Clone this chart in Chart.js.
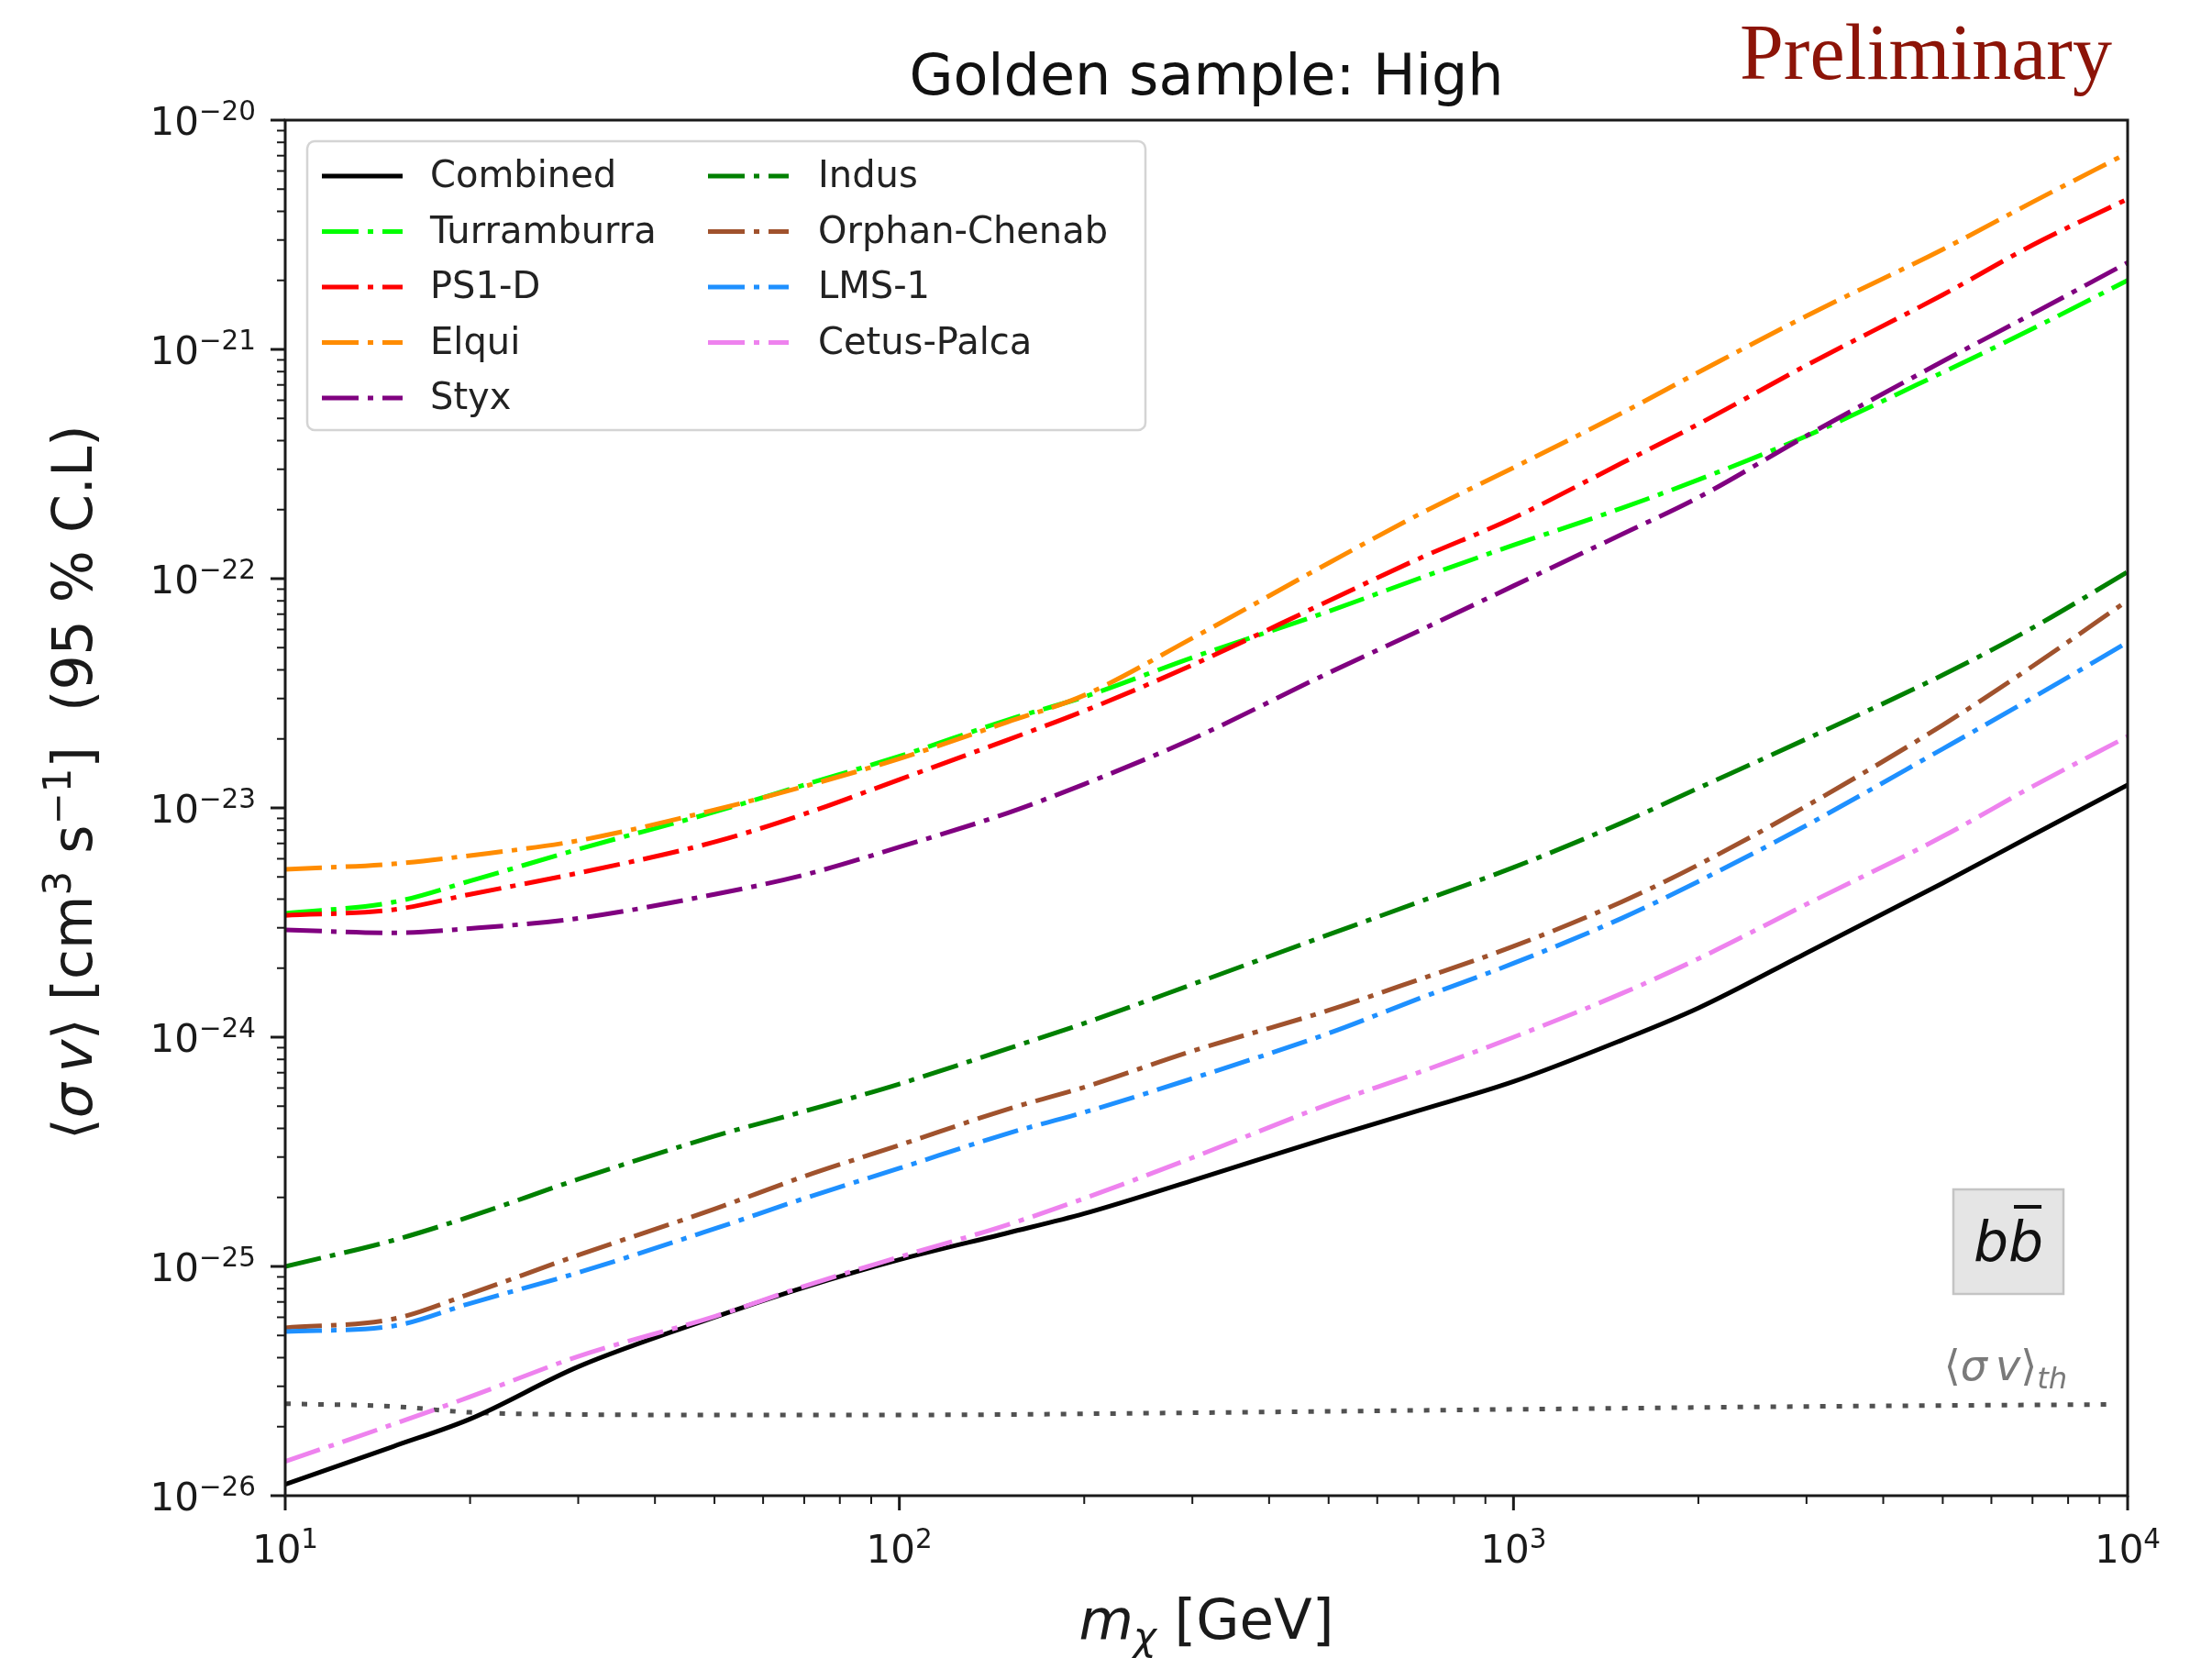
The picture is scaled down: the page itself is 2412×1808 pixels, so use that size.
<!DOCTYPE html>
<html>
<head>
<meta charset="utf-8">
<script src="https://cdn.jsdelivr.net/npm/chart.js@4.4.1/dist/chart.umd.min.js"></script>
<style>
  html, body { margin: 0; padding: 0; background: #fff; }
  canvas { display: block; }
</style>
</head>
<body>
<canvas id="limits" width="2412" height="1808"></canvas>
<script>
// dark matter mass grid (GeV)
var masses = [10, 15, 20, 30, 50, 70, 100, 150, 200, 300, 500, 700, 1000, 1500, 2000, 3000, 5000, 7000, 10000];

// 95% C.L. upper limits on <sigma v> (cm^3 s^-1), b-bbar channel
var combined     = [1.12e-26, 1.64e-26, 2.16e-26, 3.65e-26, 6.0e-26, 8.1e-26, 1.07e-25, 1.4e-25, 1.7e-25, 2.37e-25, 3.64e-25, 4.78e-25, 6.4e-25, 9.7e-25, 1.34e-24, 2.33e-24, 4.7e-24, 7.6e-24, 1.26e-23];
var turramburra  = [3.47e-24, 3.88e-24, 4.8e-24, 6.6e-24, 9.6e-24, 1.26e-23, 1.68e-23, 2.42e-23, 3.05e-23, 4.53e-23, 7.2e-23, 1.0e-22, 1.4e-22, 2.03e-22, 2.7e-22, 4.19e-22, 7.94e-22, 1.23e-21, 2.0e-21];
var ps1d         = [3.4e-24, 3.6e-24, 4.2e-24, 5.2e-24, 7.1e-24, 9.4e-24, 1.33e-23, 1.98e-23, 2.65e-23, 4.2e-23, 8.0e-23, 1.22e-22, 1.84e-22, 3.19e-22, 4.72e-22, 8.53e-22, 1.73e-21, 2.85e-21, 4.53e-21];
var elqui        = [5.4e-24, 5.7e-24, 6.2e-24, 7.2e-24, 9.8e-24, 1.24e-23, 1.64e-23, 2.37e-23, 3.1e-23, 5.5e-23, 1.17e-22, 1.9e-22, 3.05e-22, 5.27e-22, 7.94e-22, 1.4e-21, 2.73e-21, 4.39e-21, 7.19e-21];
var styx         = [2.94e-24, 2.85e-24, 2.98e-24, 3.3e-24, 4.2e-24, 5.1e-24, 6.75e-24, 9.5e-24, 1.27e-23, 2.0e-23, 3.88e-23, 5.9e-23, 9.3e-23, 1.56e-22, 2.26e-22, 4.2e-22, 8.87e-22, 1.43e-21, 2.39e-21];
var indus        = [1.0e-25, 1.3e-25, 1.65e-25, 2.4e-25, 3.7e-25, 4.75e-25, 6.25e-25, 8.9e-25, 1.15e-24, 1.7e-24, 2.8e-24, 3.88e-24, 5.5e-24, 8.6e-24, 1.22e-23, 2.0e-23, 3.8e-23, 6.1e-23, 1.07e-22];
var orphanChenab = [5.4e-26, 5.9e-26, 7.6e-26, 1.12e-25, 1.78e-25, 2.47e-25, 3.38e-25, 4.85e-25, 6.05e-25, 8.7e-25, 1.31e-24, 1.78e-24, 2.49e-24, 3.89e-24, 5.65e-24, 1.02e-23, 2.3e-23, 4.15e-23, 8.03e-23];
var lms1         = [5.2e-26, 5.5e-26, 6.9e-26, 9.4e-26, 1.46e-25, 1.98e-25, 2.68e-25, 3.8e-25, 4.7e-25, 6.6e-25, 1.04e-24, 1.47e-24, 2.1e-24, 3.3e-24, 4.78e-24, 8.4e-24, 1.81e-23, 3.02e-23, 5.28e-23];
var cetusPalca   = [1.41e-26, 2.05e-26, 2.7e-26, 4.05e-26, 6.05e-26, 8.2e-26, 1.1e-25, 1.52e-25, 1.98e-25, 2.98e-25, 5.1e-25, 7.0e-25, 1.0e-24, 1.55e-24, 2.2e-24, 3.8e-24, 7.51e-24, 1.24e-23, 2.05e-23];

// thermal relic cross section
var thermalMasses = [10, 15, 20, 30, 50, 100, 300, 1000, 3000, 9300];
var thermalXsec   = [2.52e-26, 2.45e-26, 2.31e-26, 2.26e-26, 2.25e-26, 2.25e-26, 2.3e-26, 2.38e-26, 2.45e-26, 2.5e-26];

var seriesNames  = ['Combined', 'Turramburra', 'PS1-D', 'Elqui', 'Styx', 'Indus', 'Orphan-Chenab', 'LMS-1', 'Cetus-Palca'];
var seriesValues = [combined, turramburra, ps1d, elqui, styx, indus, orphanChenab, lms1, cetusPalca];
var seriesColors = ['#000000', '#00ff00', '#ff0000', '#ff8c00', '#800080', '#008000', '#a0522d', '#1e90ff', '#ee82ee'];

// axis decades
var xDecades = [1, 2, 3, 4];
var yDecades = [-26, -25, -24, -23, -22, -21, -20];

var DASHDOT = [40, 10, 6, 10];
var FONT = '"DejaVu Sans"';

var datasets = seriesNames.map(function (name, i) {
  return {
    label: name,
    data: masses.map(function (m, j) { return { x: m, y: seriesValues[i][j] }; }),
    borderColor: seriesColors[i],
    backgroundColor: seriesColors[i],
    borderWidth: 5,
    borderDash: i === 0 ? [] : DASHDOT,
    borderCapStyle: 'butt',
    pointRadius: 0,
    fill: false,
    cubicInterpolationMode: 'monotone',
    order: -i
  };
});
datasets.push({
  label: 'thermal',
  data: thermalMasses.map(function (m, j) { return { x: m, y: thermalXsec[j] }; }),
  borderColor: 'rgba(50,50,50,0.85)',
  borderWidth: 5,
  borderDash: [6, 12],
  borderCapStyle: 'butt',
  pointRadius: 0,
  fill: false,
  cubicInterpolationMode: 'monotone',
  order: 5
});

function fontFor(p, size) {
  var s = (p.sup || p.sub) ? size * 0.7 : size;
  return (p.it ? 'italic ' : '') + s.toFixed(1) + 'px ' + FONT;
}
function richWidth(ctx, parts, size) {
  var w = 0;
  parts.forEach(function (p) {
    ctx.font = fontFor(p, size);
    w += ctx.measureText(p.t).width;
  });
  return w;
}
// draws a run of text pieces (italic / super- / subscript) on one baseline
function drawRich(ctx, parts, x, y, size, align) {
  var w = richWidth(ctx, parts, size);
  var cx = align === 'center' ? x - w / 2 : (align === 'right' ? x - w : x);
  ctx.textAlign = 'left';
  ctx.textBaseline = 'alphabetic';
  parts.forEach(function (p) {
    ctx.font = fontFor(p, size);
    var dy = p.sup ? -size * 0.38 : (p.sub ? size * 0.2 : 0);
    ctx.fillText(p.t, cx, y + dy);
    cx += ctx.measureText(p.t).width;
  });
  return w;
}
function powerLabel(e) {
  return [{ t: '10' }, { t: String(e).replace('-', '\u2212'), sup: true }];
}

var decorations = {
  id: 'decorations',
  afterDraw: function (chart) {
    var ctx = chart.ctx;
    var a = chart.chartArea;
    var xs = chart.scales.x, ys = chart.scales.y;
    ctx.save();

    // axes frame
    ctx.strokeStyle = '#1a1a1a';
    ctx.lineWidth = 3;
    ctx.strokeRect(a.left, a.top, a.right - a.left, a.bottom - a.top);

    // ticks: majors at decades, minors at 2..9
    ctx.fillStyle = '#1a1a1a';
    xDecades.forEach(function (e) {
      var px = xs.getPixelForValue(Math.pow(10, e));
      ctx.lineWidth = 3;
      ctx.beginPath(); ctx.moveTo(px, a.bottom); ctx.lineTo(px, a.bottom + 16); ctx.stroke();
      drawRich(ctx, powerLabel(e), px, a.bottom + 73, 42, 'center');
      if (e < 4) {
        for (var k = 2; k <= 9; k++) {
          var mx = xs.getPixelForValue(k * Math.pow(10, e));
          ctx.lineWidth = 2;
          ctx.beginPath(); ctx.moveTo(mx, a.bottom); ctx.lineTo(mx, a.bottom + 9); ctx.stroke();
        }
      }
    });
    yDecades.forEach(function (e) {
      var py = ys.getPixelForValue(Math.pow(10, e));
      ctx.lineWidth = 3;
      ctx.beginPath(); ctx.moveTo(a.left, py); ctx.lineTo(a.left - 16, py); ctx.stroke();
      drawRich(ctx, powerLabel(e), a.left - 32, py + 16, 42, 'right');
      if (e < -20) {
        for (var k = 2; k <= 9; k++) {
          var my = ys.getPixelForValue(k * Math.pow(10, e));
          ctx.lineWidth = 2;
          ctx.beginPath(); ctx.moveTo(a.left, my); ctx.lineTo(a.left - 9, my); ctx.stroke();
        }
      }
    });

    // axis titles
    var midX = (a.left + a.right) / 2;
    drawRich(ctx, [{ t: 'm', it: true }, { t: '\u03c7', it: true, sub: true }, { t: ' [GeV]' }], midX, 1787, 61, 'center');

    ctx.save();
    ctx.translate(100, 853);
    ctx.rotate(-Math.PI / 2);
    drawRich(ctx, [
      { t: '\u27e8' }, { t: '\u03c3', it: true }, { t: '\u2009' }, { t: 'v', it: true }, { t: '\u27e9' },
      { t: ' [cm' }, { t: '3', sup: true }, { t: ' s' }, { t: '\u22121', sup: true }, { t: ']  (95 % C.L)' }
    ], 0, 0, 60, 'center');
    ctx.restore();

    // title and stamp
    ctx.fillStyle = '#111';
    ctx.font = '62px ' + FONT;
    ctx.textAlign = 'center';
    ctx.textBaseline = 'alphabetic';
    ctx.fillText('Golden sample: High', midX, 103);

    ctx.fillStyle = '#8c1408';
    ctx.font = '86px "Liberation Serif"';
    ctx.textAlign = 'right';
    ctx.fillText('Preliminary', 2303, 86);

    // thermal relic label
    ctx.fillStyle = '#7a7a7a';
    drawRich(ctx, [{ t: '\u27e8' }, { t: '\u03c3', it: true }, { t: '\u2009' }, { t: 'v', it: true }, { t: '\u27e9' }, { t: 'th', it: true, sub: true }], 2187, 1505, 46, 'center');

    // channel box
    ctx.fillStyle = '#e5e5e5';
    ctx.fillRect(2130, 1297, 120, 114);
    ctx.strokeStyle = '#c4c4c4';
    ctx.lineWidth = 2.5;
    ctx.strokeRect(2130, 1297, 120, 114);
    ctx.fillStyle = '#111';
    var bw = drawRich(ctx, [{ t: 'bb', it: true }], 2190, 1375, 60, 'center');
    ctx.strokeStyle = '#111';
    ctx.lineWidth = 4;
    ctx.beginPath();
    ctx.moveTo(2190 + 6, 1316); ctx.lineTo(2190 + bw / 2 - 2, 1316);
    ctx.stroke();

    // legend, two columns filled top to bottom
    var lx = 335, ly = 154, lw = 914, lh = 315, r = 8;
    ctx.fillStyle = 'rgba(255,255,255,0.85)';
    ctx.strokeStyle = '#d4d4d4';
    ctx.lineWidth = 2.5;
    ctx.beginPath();
    ctx.moveTo(lx + r, ly);
    ctx.arcTo(lx + lw, ly, lx + lw, ly + lh, r);
    ctx.arcTo(lx + lw, ly + lh, lx, ly + lh, r);
    ctx.arcTo(lx, ly + lh, lx, ly, r);
    ctx.arcTo(lx, ly, lx + lw, ly, r);
    ctx.closePath();
    ctx.fill();
    ctx.stroke();

    var cols = [{ hx: 351, tx: 469 }, { hx: 772, tx: 892 }];
    seriesNames.forEach(function (name, i) {
      var col = cols[i < 5 ? 0 : 1];
      var row = i < 5 ? i : i - 5;
      var cy = 192 + row * 60.5;
      ctx.strokeStyle = seriesColors[i];
      ctx.lineWidth = 5;
      ctx.lineCap = 'butt';
      ctx.setLineDash(i === 0 ? [] : DASHDOT);
      ctx.beginPath(); ctx.moveTo(col.hx, cy); ctx.lineTo(col.hx + 88, cy); ctx.stroke();
      ctx.setLineDash([]);
      ctx.fillStyle = '#222';
      ctx.font = '40px ' + FONT;
      ctx.textAlign = 'left';
      ctx.textBaseline = 'middle';
      ctx.fillText(name, col.tx, cy + 2);
    });

    ctx.restore();
  }
};

new Chart(document.getElementById('limits').getContext('2d'), {
  type: 'line',
  data: { datasets: datasets },
  options: {
    responsive: false,
    animation: false,
    layout: { padding: { left: 311, right: 92, top: 131, bottom: 177 } },
    scales: {
      x: { type: 'logarithmic', min: 10, max: 10000, display: false },
      y: { type: 'logarithmic', min: 1e-26, max: 1e-20, display: false }
    },
    plugins: {
      legend: { display: false },
      title: { display: false },
      tooltip: { enabled: false }
    }
  },
  plugins: [decorations]
});
</script>
</body>
</html>
